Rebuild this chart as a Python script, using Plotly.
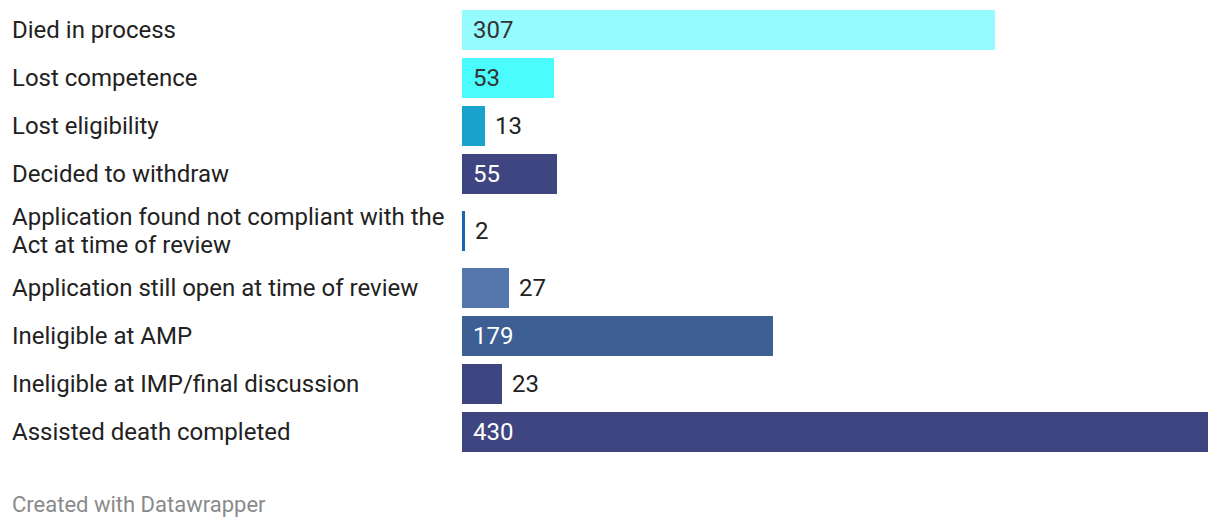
import plotly.graph_objects as go

categories = [
    "Died in process",
    "Lost competence",
    "Lost eligibility",
    "Decided to withdraw",
    "Application found not compliant with the<br>Act at time of review",
    "Application still open at time of review",
    "Ineligible at AMP",
    "Ineligible at IMP/final discussion",
    "Assisted death completed",
]
values = [307, 53, 13, 55, 2, 27, 179, 23, 430]
colors = ["#95fbfe", "#4afcfc", "#18a2cc", "#3e4580", "#1566ae",
          "#5677ad", "#3d5f94", "#3e4580", "#3e4580"]
text_colors = ["#333333", "#333333", "#222222", "#ffffff", "#222222",
               "#222222", "#ffffff", "#222222", "#ffffff"]

W, H = 1220, 528
X0, X1 = 462, 1208
XMAX = 430
BAR_H = 40
ROW = 48
EXTRA = 9  # extra spacing around two-line rows
FS = 24
LINE_H = 28

# compute row centres (pixel units on y axis)
centers = []
y = 30
for i, c in enumerate(categories):
    lines = c.count("<br>") + 1
    if i > 0:
        prev_lines = categories[i - 1].count("<br>") + 1
        step = ROW + (EXTRA if lines > 1 else 0) + (EXTRA if prev_lines > 1 else 0)
        y += step
    centers.append(y)

fig = go.Figure()
fig.add_trace(go.Bar(
    x=values, y=centers, orientation="h",
    width=BAR_H, marker=dict(color=colors, line=dict(width=0)),
    hoverinfo="skip", showlegend=False,
))

px_per_unit = (X1 - X0) / XMAX
annotations = []
for c, v, yc, tc in zip(categories, values, centers, text_colors):
    parts = c.split("<br>")
    n = len(parts)
    for k, part in enumerate(parts):
        off = (k - (n - 1) / 2) * LINE_H
        annotations.append(dict(
            x=10 / W, xref="paper", y=yc + off, yref="y", text=part, showarrow=False,
            xanchor="left", yanchor="middle", align="left",
            font=dict(family="Roboto", size=FS, color="#222222"),
        ))
    bar_px = v * px_per_unit
    inside = bar_px > 60
    annotations.append(dict(
        x=0 if inside else v, xref="x", y=yc, yref="y", text=str(v), showarrow=False,
        xanchor="left", yanchor="middle", xshift=9 if inside else 8,
        font=dict(family="Roboto", size=FS, color=tc),
    ))

annotations.append(dict(
    x=10 / W, xref="paper", y=504, yref="y", text="Created with Datawrapper",
    showarrow=False, xanchor="left", yanchor="middle",
    font=dict(family="Roboto", size=22, color="#8a8a8a"),
))

fig.update_layout(
    width=W, height=H,
    margin=dict(l=0, r=0, t=0, b=0),
    paper_bgcolor="white", plot_bgcolor="white",
    xaxis=dict(domain=[X0 / W, X1 / W], range=[0, XMAX], visible=False, fixedrange=True),
    yaxis=dict(range=[H, 0], visible=False, fixedrange=True),
    annotations=annotations,
    bargap=0,
)

fig.write_html("out.html", config={"displayModeBar": False})
